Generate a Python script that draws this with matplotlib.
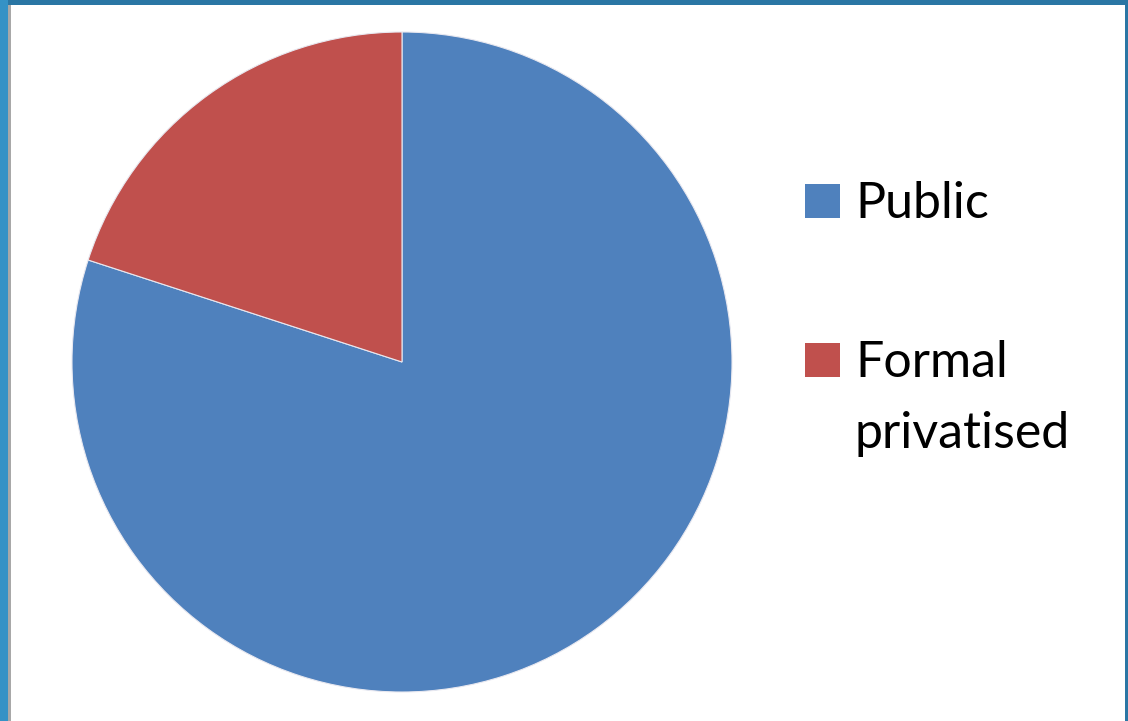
import matplotlib
matplotlib.use('Agg')
import matplotlib.pyplot as plt
from matplotlib.patches import Rectangle

# 数据
labels = ['Public', 'Formal\nprivatised']
shares = [80, 20]
colors = ['#4F81BD', '#C0504D']

W, H = 1128, 721
fig = plt.figure(figsize=(W / 100, H / 100), dpi=100)
fig.patch.set_facecolor('white')


def px(x, y):
    # 像素坐标 (左上为原点) -> figure 坐标
    return x / W, 1 - y / H


# 外框 (幻灯片截图的蓝色边)
fig.patches.append(Rectangle((0, 1 - 5 / H), 1, 5 / H, transform=fig.transFigure,
                             facecolor='#2A76A4', edgecolor='none', zorder=0))
fig.patches.append(Rectangle((0, 0), 8 / W, 1, transform=fig.transFigure,
                             facecolor='#3592C6', edgecolor='none', zorder=0))
fig.patches.append(Rectangle((8 / W, 0), 3 / W, 1 - 5 / H, transform=fig.transFigure,
                             facecolor='#A8A8A8', edgecolor='none', zorder=0))
fig.patches.append(Rectangle((1 - 3 / W, 0), 3 / W, 1, transform=fig.transFigure,
                             facecolor='#2A76A4', edgecolor='none', zorder=0))

# 饼图
cx, cy, r = 402, 362, 330
ax = fig.add_axes([(cx - r) / W, (H - cy - r) / H, 2 * r / W, 2 * r / H])
ax.pie(shares, colors=colors, startangle=90, counterclock=False, radius=1,
       wedgeprops=dict(edgecolor='#E8E8F0', linewidth=0.8))
ax.set_xlim(-1, 1)
ax.set_ylim(-1, 1)
ax.set_aspect('equal')
ax.axis('off')

# 图例 (手动绘制, 多行标签逐行放置)
rows_top = [184, 343]
line_gap = 71
for lab, col, top in zip(labels, colors, rows_top):
    x0, y0 = px(805, top + 34)
    fig.patches.append(Rectangle((x0, y0), 35 / W, 34 / H, transform=fig.transFigure,
                                 facecolor=col, edgecolor='none'))
    for i, line in enumerate(lab.split('\n')):
        tx, ty = px(855, top + 34 + i * line_gap)
        fig.text(tx, ty, line, fontsize=36, family='Lato', color='black',
                 ha='left', va='baseline')

fig.savefig('out.png', dpi=100)
